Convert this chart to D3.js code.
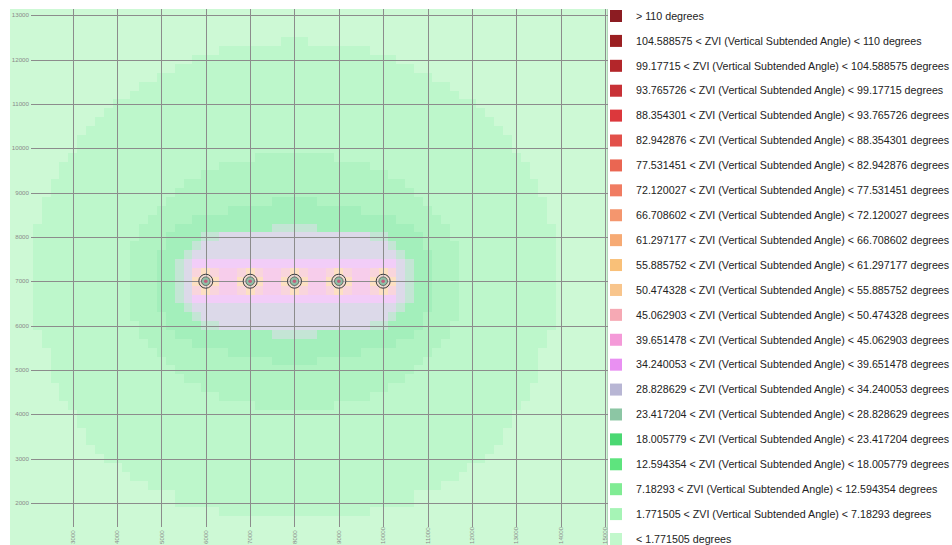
<!DOCTYPE html>
<html>
<head>
<meta charset="utf-8">
<script src="https://cdn.jsdelivr.net/npm/d3@7"></script>
<style>
  html, body { margin: 0; padding: 0; background: #fff; }
  svg { display: block; }
  .legend text { font-family: "Liberation Sans", Arial, sans-serif; font-size: 10.7px; fill: #222; }
  .tick-label { font-family: "Liberation Sans", Arial, sans-serif; font-size: 6.2px; fill: #8a8a8a; }
</style>
</head>
<body>
<svg id="chart" width="952" height="545"></svg>
<script>
// axis domains (metres) and ticks
const xDomain = [1585, 15070];
const yDomain = [1050, 13140];
const xTicks = [3000, 4000, 5000, 6000, 7000, 8000, 9000, 10000, 11000, 12000, 13000, 14000, 15000];
const yTicks = [2000, 3000, 4000, 5000, 6000, 7000, 8000, 9000, 10000, 11000, 12000, 13000];

// turbine locations
const turbineX = [6000, 7000, 8000, 9000, 10000];
const turbineY = [7000, 7000, 7000, 7000, 7000];

// legend classes, top to bottom
const legendLabels = [
  '> 110 degrees',
  '104.588575 < ZVI (Vertical Subtended Angle) < 110 degrees',
  '99.17715 < ZVI (Vertical Subtended Angle) < 104.588575 degrees',
  '93.765726 < ZVI (Vertical Subtended Angle) < 99.17715 degrees',
  '88.354301 < ZVI (Vertical Subtended Angle) < 93.765726 degrees',
  '82.942876 < ZVI (Vertical Subtended Angle) < 88.354301 degrees',
  '77.531451 < ZVI (Vertical Subtended Angle) < 82.942876 degrees',
  '72.120027 < ZVI (Vertical Subtended Angle) < 77.531451 degrees',
  '66.708602 < ZVI (Vertical Subtended Angle) < 72.120027 degrees',
  '61.297177 < ZVI (Vertical Subtended Angle) < 66.708602 degrees',
  '55.885752 < ZVI (Vertical Subtended Angle) < 61.297177 degrees',
  '50.474328 < ZVI (Vertical Subtended Angle) < 55.885752 degrees',
  '45.062903 < ZVI (Vertical Subtended Angle) < 50.474328 degrees',
  '39.651478 < ZVI (Vertical Subtended Angle) < 45.062903 degrees',
  '34.240053 < ZVI (Vertical Subtended Angle) < 39.651478 degrees',
  '28.828629 < ZVI (Vertical Subtended Angle) < 34.240053 degrees',
  '23.417204 < ZVI (Vertical Subtended Angle) < 28.828629 degrees',
  '18.005779 < ZVI (Vertical Subtended Angle) < 23.417204 degrees',
  '12.594354 < ZVI (Vertical Subtended Angle) < 18.005779 degrees',
  '7.18293 < ZVI (Vertical Subtended Angle) < 12.594354 degrees',
  '1.771505 < ZVI (Vertical Subtended Angle) < 7.18293 degrees',
  '< 1.771505 degrees'
];
const legendColors = [
  '#8c1c22', '#9b1f22', '#b3262a', '#c83136', '#dc383c', '#e2504a', '#ea6652', '#f07c62',
  '#f4966e', '#f6aa74', '#f9c078', '#f8c58c', '#f6a9b4', '#f49ad8', '#e990f2', '#b8b6d4',
  '#8cc6a4', '#4ad872', '#5ee47e', '#80ec94', '#a6f4b6', '#c2f8cc'
];
// same classes as drawn on the map (washed out)
const mapColors = [
  '#dca4a6', '#e0a8a8', '#e8b0b0', '#eeb6b6', '#f2b8b8', '#f4c0bc', '#f6c8c0', '#f8cec4',
  '#fad6c6', '#fbdcc6', '#fdd9a6', '#fde0c2', '#f9d5dc', '#f7cdeb', '#f2cdf8', '#dcd9e9',
  '#c4e5d5', '#96eaae', '#a3efbb', '#b0f3c2', '#bdf7cb', '#cdf9d5'
];

// ZVI zones: [yLow, yHigh, xLeft, xRight]
const zvi1_77 = [
  [12300, 12500, 7700, 8300], [12100, 12300, 6300, 9700], [11900, 12100, 5700, 10300],
  [11700, 11900, 5300, 10700], [11500, 11700, 4900, 11100], [11300, 11500, 4500, 11500],
  [11100, 11300, 4300, 11700], [10900, 11100, 3900, 12100], [10700, 10900, 3700, 12300],
  [10500, 10700, 3500, 12500], [10300, 10500, 3300, 12700], [9900, 10300, 3100, 12900],
  [9700, 9900, 2900, 13100], [9300, 9700, 2700, 13300], [8900, 9300, 2500, 13500],
  [8300, 8900, 2300, 13700], [5900, 8300, 2100, 13900], [5500, 5900, 2300, 13700],
  [4700, 5500, 2500, 13500], [4300, 4700, 2700, 13300], [4100, 4300, 2900, 13100],
  [3700, 4100, 3100, 12900], [3300, 3700, 3300, 12700], [3100, 3300, 3500, 12500],
  [2900, 3100, 3700, 12300], [2700, 2900, 4100, 11900], [2500, 2700, 4300, 11700],
  [2300, 2500, 4700, 11300], [1900, 2300, 5300, 10700], [1700, 1900, 6300, 9700]
];
const zvi7_18 = [
  [9700, 9900, 7100, 8900], [9500, 9700, 6300, 9700], [9300, 9500, 5900, 10100],
  [9100, 9300, 5500, 10500], [8900, 9100, 5300, 10700], [8700, 8900, 5100, 10900],
  [8500, 8700, 4900, 11100], [8300, 8500, 4700, 11300], [7900, 8300, 4500, 11500],
  [6100, 7900, 4300, 11700], [5700, 6100, 4500, 11500], [5500, 5700, 4700, 11300],
  [5300, 5500, 4900, 11100], [5100, 5300, 5100, 10900], [4900, 5100, 5300, 10700],
  [4700, 4900, 5500, 10500], [4500, 4700, 5900, 10100], [4300, 4500, 6300, 9700],
  [4100, 4300, 7100, 8900]
];
const zvi12_59 = [
  [8700, 8900, 7500, 8500], [8500, 8700, 6500, 9500], [8300, 8500, 5700, 10300],
  [8100, 8300, 5300, 10700], [7700, 8100, 5100, 10900], [6300, 7700, 4900, 11100],
  [5900, 6300, 5100, 10900], [5700, 5900, 5300, 10700], [5500, 5700, 5700, 10300],
  [5300, 5500, 6500, 9500], [5100, 5300, 7500, 8500]
];
const zvi23_42 = [
  [8100, 8300, 7500, 8500], [7900, 8100, 5900, 10100], [7700, 7900, 5700, 10300],
  [7500, 7700, 5500, 10500], [6500, 7500, 5300, 10700], [6300, 6500, 5500, 10500],
  [6100, 6300, 5700, 10300], [5900, 6100, 5900, 10100], [5700, 5900, 7500, 8500]
];
const zvi28_83 = [
  [7900, 8100, 6300, 9700], [7700, 7900, 5900, 10100], [7500, 7700, 5700, 10300],
  [6500, 7500, 5500, 10500], [6300, 6500, 5700, 10300], [6100, 6300, 5900, 10100],
  [5900, 6100, 6300, 9700]
];
const zvi34_24 = [[6500, 7500, 5700, 10300]];
const zvi39_65 = [[6700, 7300, 5900, 10100]];
const zvi45_06 = [
  [6700, 7300, 5700, 6300], [6700, 7300, 6700, 7300], [6700, 7300, 7700, 8300],
  [6700, 7300, 8700, 9300], [6700, 7300, 9700, 10300]
];
const zvi50_47 = [
  [6900, 7100, 5700, 6300], [6700, 7300, 5900, 6100],
  [6900, 7100, 6700, 7300], [6700, 7300, 6900, 7100],
  [6900, 7100, 7700, 8300], [6700, 7300, 7900, 8100],
  [6900, 7100, 8700, 9300], [6700, 7300, 8900, 9100],
  [6900, 7100, 9700, 10300], [6700, 7300, 9900, 10100]
];
const zvi55_89 = [
  [6900, 7100, 5900, 6100], [6900, 7100, 6900, 7100], [6900, 7100, 7900, 8100],
  [6900, 7100, 8900, 9100], [6900, 7100, 9900, 10100]
];

// legend index for each layer, outer to inner
const mapLayers = [
  [20, zvi1_77], [19, zvi7_18], [18, zvi12_59], [16, zvi23_42], [15, zvi28_83],
  [14, zvi34_24], [13, zvi39_65], [12, zvi45_06], [11, zvi50_47], [10, zvi55_89]
];

const svg = d3.select('#chart');
const x = d3.scaleLinear().domain(xDomain).range([10, 608]);
const y = d3.scaleLinear().domain(yDomain).range([545, 9]);
const crisp = v => Math.round(v) + 0.5;

/**
 * Draws the background and the ZVI zones
 */
function drawMap() {
  const g = svg.append('g').attr('shape-rendering', 'crispEdges');

  g.append('rect')
    .attr('x', x(xDomain[0]))
    .attr('y', y(yDomain[1]))
    .attr('width', x(xDomain[1]) - x(xDomain[0]))
    .attr('height', y(yDomain[0]) - y(yDomain[1]))
    .attr('fill', mapColors[21]);

  mapLayers.forEach(function (layer) {
    g.append('g')
      .selectAll('rect')
      .data(layer[1])
      .join('rect')
      .attr('x', d => x(d[2]))
      .attr('y', d => y(d[1]))
      .attr('width', d => x(d[3]) - x(d[2]))
      .attr('height', d => y(d[0]) - y(d[1]))
      .attr('fill', mapColors[layer[0]]);
  });

  // right edge of the raster
  g.append('line')
    .attr('x1', crisp(x(xDomain[1])) - 1).attr('x2', crisp(x(xDomain[1])) - 1)
    .attr('y1', y(yDomain[1])).attr('y2', y(yDomain[0]))
    .attr('stroke', '#b3d6bb');
}

/**
 * Draws the grid with its labels inside the map
 */
function drawGrid() {
  const g = svg.append('g');

  g.selectAll('.hgrid')
    .data(yTicks)
    .join('line')
    .attr('class', 'hgrid')
    .attr('x1', 31).attr('x2', x(xDomain[1]))
    .attr('y1', d => crisp(y(d))).attr('y2', d => crisp(y(d)))
    .attr('stroke', '#8c8c8c');

  g.selectAll('.vgrid')
    .data(xTicks)
    .join('line')
    .attr('class', 'vgrid')
    .attr('x1', d => crisp(x(d))).attr('x2', d => crisp(x(d)))
    .attr('y1', y(yDomain[1])).attr('y2', 527)
    .attr('stroke', '#8c8c8c');

  g.selectAll('.ylab')
    .data(yTicks)
    .join('text')
    .attr('class', 'tick-label ylab')
    .attr('x', 29)
    .attr('y', d => y(d))
    .attr('dy', '0.35em')
    .attr('text-anchor', 'end')
    .text(d => d);

  g.selectAll('.xlab')
    .data(xTicks)
    .join('text')
    .attr('class', 'tick-label xlab')
    .attr('transform', d => 'translate(' + (x(d) + 2.2) + ',544) rotate(-90)')
    .attr('text-anchor', 'start')
    .text(d => d);
}

/**
 * Draws the turbine symbols
 */
function drawTurbines() {
  const g = svg.append('g')
    .selectAll('g')
    .data(turbineX.map((d, i) => [d, turbineY[i]]))
    .join('g')
    .attr('transform', d => 'translate(' + x(d[0]) + ',' + y(d[1]) + ')');

  g.append('circle').attr('r', 7).attr('fill', 'rgba(225,215,225,0.55)').attr('stroke', '#3a3a3a').attr('stroke-width', 1);
  g.append('circle').attr('r', 4.3).attr('fill', '#8fbfa6').attr('stroke', '#555').attr('stroke-width', 0.8);
  g.append('circle').attr('r', 1.8).attr('fill', '#c25f7c');
}

/**
 * Draws the legend on the right
 */
function drawLegend() {
  const ly = d3.scaleLinear().domain([0, legendLabels.length - 1]).range([16, 539]);
  const item = svg.append('g')
    .attr('class', 'legend')
    .selectAll('g')
    .data(legendLabels)
    .join('g')
    .attr('transform', (d, i) => 'translate(0,' + ly(i) + ')');

  item.append('rect')
    .attr('x', 610).attr('y', -6)
    .attr('width', 12).attr('height', 12)
    .attr('fill', (d, i) => legendColors[i]);

  item.append('text')
    .attr('x', 636)
    .attr('dy', '0.35em')
    .text(d => d);
}

drawMap();
drawGrid();
drawTurbines();
drawLegend();
</script>
</body>
</html>
